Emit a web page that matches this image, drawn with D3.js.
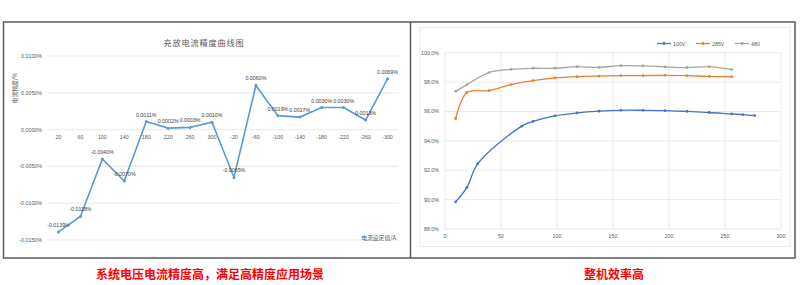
<!DOCTYPE html>
<html>
<head>
<meta charset="utf-8">
<script src="https://cdn.jsdelivr.net/npm/d3@7"></script>
<style>
  body { margin: 0; background: #fff; }
  svg text { font-family: "Liberation Sans", "Noto Sans CJK SC", sans-serif; }
  .cjk { font-family: "Noto Sans CJK SC", sans-serif; }
</style>
</head>
<body>
<svg id="chart" width="800" height="285"></svg>
<script>
// left chart: current precision per set value
var categories = ["20", "60", "100", "140", "180", "220", "260", "300", "-20", "-60", "-100", "-140", "-180", "-220", "-260", "-300"];
var precision = [-0.0139, -0.0118, -0.0040, -0.0070, 0.0011, 0.0002, 0.0003, 0.0010, -0.0065, 0.0060, 0.0019, 0.0017, 0.0030, 0.0030, 0.0013, 0.0069];
var precisionTicks = [0.01, 0.005, 0, -0.005, -0.01, -0.015];

// right chart: efficiency curves
var seriesNames = ["100V", "285V", "480"];
var x100 = [9.5, 19.6, 29.2, 68.5, 78.6, 98.2, 117.9, 137.5, 157, 176.8, 196.4, 216, 236, 256, 266, 276.5];
var eff100 = [89.85, 90.83, 92.44, 95.0, 95.32, 95.7, 95.9, 96.02, 96.08, 96.08, 96.06, 96.0, 95.93, 95.83, 95.79, 95.72];
var x285 = [9.5, 19.6, 39.3, 58.9, 78.6, 98.2, 117.9, 137.5, 157, 176.8, 196.4, 216, 236, 256];
var eff285 = [95.52, 97.29, 97.42, 97.83, 98.1, 98.28, 98.37, 98.41, 98.44, 98.44, 98.46, 98.44, 98.39, 98.37];
var x480 = [9.5, 19.6, 39.3, 58.9, 78.6, 98.2, 117.9, 137.5, 157, 176.8, 196.4, 216, 236, 256];
var eff480 = [97.37, 97.83, 98.65, 98.87, 98.94, 98.94, 99.05, 99.0, 99.12, 99.1, 99.03, 98.99, 99.05, 98.85];
var effTicks = [88, 90, 92, 94, 96, 98, 100];
var loadTicks = [0, 50, 100, 150, 200, 250, 300];

var svg = d3.select("#chart");

svg.append("rect").attr("width", 800).attr("height", 285).attr("fill", "#fff");

// ---------- left chart ----------
var gl = svg.append("g");
var xl = d3.scaleBand().domain(categories).range([47.5, 398.5]);
var yl = d3.scaleLinear().domain([-0.015, 0.01]).range([240, 56]);

gl.selectAll("line.grid").data(precisionTicks).enter().append("line")
    .attr("x1", 47.5).attr("x2", 398.5)
    .attr("y1", function(d){ return yl(d); }).attr("y2", function(d){ return yl(d); })
    .attr("stroke", "#e3e3e3").attr("stroke-width", 0.8);

gl.selectAll("text.ytick").data(precisionTicks).enter().append("text")
    .attr("x", 42).attr("y", function(d){ return yl(d) + 2; })
    .attr("text-anchor", "end").attr("font-size", 5.3).attr("fill", "#595959")
    .text(function(d){ return (d * 100 / 100).toFixed(4) + "%"; });

gl.selectAll("text.xtick").data(categories).enter().append("text")
    .attr("x", function(d){ return xl(d) + xl.bandwidth() / 2; })
    .attr("y", yl(0) + 9)
    .attr("text-anchor", "middle").attr("font-size", 5.3).attr("fill", "#595959")
    .text(function(d){ return d; });

gl.append("text").attr("class", "cjk")
    .attr("x", 204).attr("y", 46).attr("text-anchor", "middle")
    .attr("font-size", 8.2).attr("letter-spacing", 0.8).attr("fill", "#595959")
    .text("充放电流精度曲线图");

gl.append("text").attr("class", "cjk")
    .attr("transform", "translate(17,88) rotate(-90)")
    .attr("text-anchor", "middle").attr("font-size", 5.8).attr("fill", "#595959")
    .text("电流精度/%");

gl.append("text").attr("class", "cjk")
    .attr("x", 396).attr("y", 240).attr("text-anchor", "end")
    .attr("font-size", 5.8).attr("fill", "#595959")
    .text("电流设定值/A");

var lineL = d3.line()
    .x(function(d, i){ return xl(categories[i]) + xl.bandwidth() / 2; })
    .y(function(d){ return yl(d); });

gl.append("path").datum(precision).attr("d", lineL)
    .attr("fill", "none").attr("stroke", "#5b9bd5").attr("stroke-width", 1.6);

gl.selectAll("circle").data(precision).enter().append("circle")
    .attr("cx", function(d, i){ return xl(categories[i]) + xl.bandwidth() / 2; })
    .attr("cy", function(d){ return yl(d); })
    .attr("r", 1.5).attr("fill", "#5b9bd5");

gl.selectAll("text.lbl").data(precision).enter().append("text")
    .attr("x", function(d, i){ return xl(categories[i]) + xl.bandwidth() / 2; })
    .attr("y", function(d){ return yl(d) - 5; })
    .attr("text-anchor", "middle").attr("font-size", 5.3).attr("fill", "#404040")
    .text(function(d){ return d.toFixed(4) + "%"; });

// ---------- right chart ----------
var gr = svg.append("g");
gr.append("rect").attr("x", 420).attr("y", 27.5).attr("width", 370).attr("height", 219)
    .attr("fill", "none").attr("stroke", "#e6e6e6").attr("stroke-width", 0.8);

var xr = d3.scaleLinear().domain([0, 300]).range([445, 781]);
var yr = d3.scaleLinear().domain([88, 100]).range([229, 52.7]);

gr.selectAll("line.hg").data(effTicks).enter().append("line")
    .attr("x1", 445).attr("x2", 781)
    .attr("y1", function(d){ return yr(d); }).attr("y2", function(d){ return yr(d); })
    .attr("stroke", "#e6e6e6").attr("stroke-width", 0.8);

gr.selectAll("line.vg").data(loadTicks).enter().append("line")
    .attr("y1", 52.7).attr("y2", 229)
    .attr("x1", function(d){ return xr(d); }).attr("x2", function(d){ return xr(d); })
    .attr("stroke", "#e6e6e6").attr("stroke-width", 0.8);

gr.selectAll("text.yt").data(effTicks).enter().append("text")
    .attr("x", 439).attr("y", function(d){ return yr(d) + 2; })
    .attr("text-anchor", "end").attr("font-size", 5.3).attr("fill", "#595959")
    .text(function(d){ return d.toFixed(1) + "%"; });

gr.selectAll("text.xt").data(loadTicks).enter().append("text")
    .attr("x", function(d){ return xr(d); }).attr("y", 238)
    .attr("text-anchor", "middle").attr("font-size", 5.3).attr("fill", "#595959")
    .text(function(d){ return d; });

var series = [
    {name: seriesNames[0], xs: x100, ys: eff100, color: "#4472c4"},
    {name: seriesNames[1], xs: x285, ys: eff285, color: "#ed7d31"},
    {name: seriesNames[2], xs: x480, ys: eff480, color: "#a5a5a5"}
];

var lineR = d3.line().curve(d3.curveCatmullRom.alpha(0.5))
    .x(function(d){ return xr(d[0]); })
    .y(function(d){ return yr(d[1]); });

series.forEach(function(s){
    var pts = s.xs.map(function(x, i){ return [x, s.ys[i]]; });
    gr.append("path").datum(pts).attr("d", lineR)
        .attr("fill", "none").attr("stroke", s.color).attr("stroke-width", 1.3);
    gr.selectAll(null).data(pts).enter().append("circle")
        .attr("cx", function(d){ return xr(d[0]); })
        .attr("cy", function(d){ return yr(d[1]); })
        .attr("r", 1.4).attr("fill", s.color);
});

// legend
var legX = [657, 696, 735];
series.forEach(function(s, i){
    var lg = gr.append("g").attr("transform", "translate(" + legX[i] + ",43.5)");
    lg.append("line").attr("x1", 0).attr("x2", 14).attr("stroke", s.color).attr("stroke-width", 1.3);
    lg.append("circle").attr("cx", 7).attr("r", 1.4).attr("fill", s.color);
    lg.append("text").attr("x", 16).attr("y", 2).attr("font-size", 5.3).attr("fill", "#595959").text(s.name);
});

// frame
svg.append("rect").attr("x", 3.5).attr("y", 22).attr("width", 791.5).attr("height", 236)
    .attr("fill", "none").attr("stroke", "#595959").attr("stroke-width", 1.5);
svg.append("line").attr("x1", 410.5).attr("x2", 410.5).attr("y1", 22).attr("y2", 258)
    .attr("stroke", "#595959").attr("stroke-width", 1.5);

// captions
svg.append("text").attr("class", "cjk")
    .attr("x", 210).attr("y", 279).attr("text-anchor", "middle")
    .attr("font-size", 12).attr("font-weight", "bold").attr("fill", "#ff0000")
    .text("系统电压电流精度高，满足高精度应用场景");
svg.append("text").attr("class", "cjk")
    .attr("x", 614).attr("y", 279).attr("text-anchor", "middle")
    .attr("font-size", 12).attr("font-weight", "bold").attr("fill", "#ff0000")
    .text("整机效率高");
</script>
</body>
</html>
